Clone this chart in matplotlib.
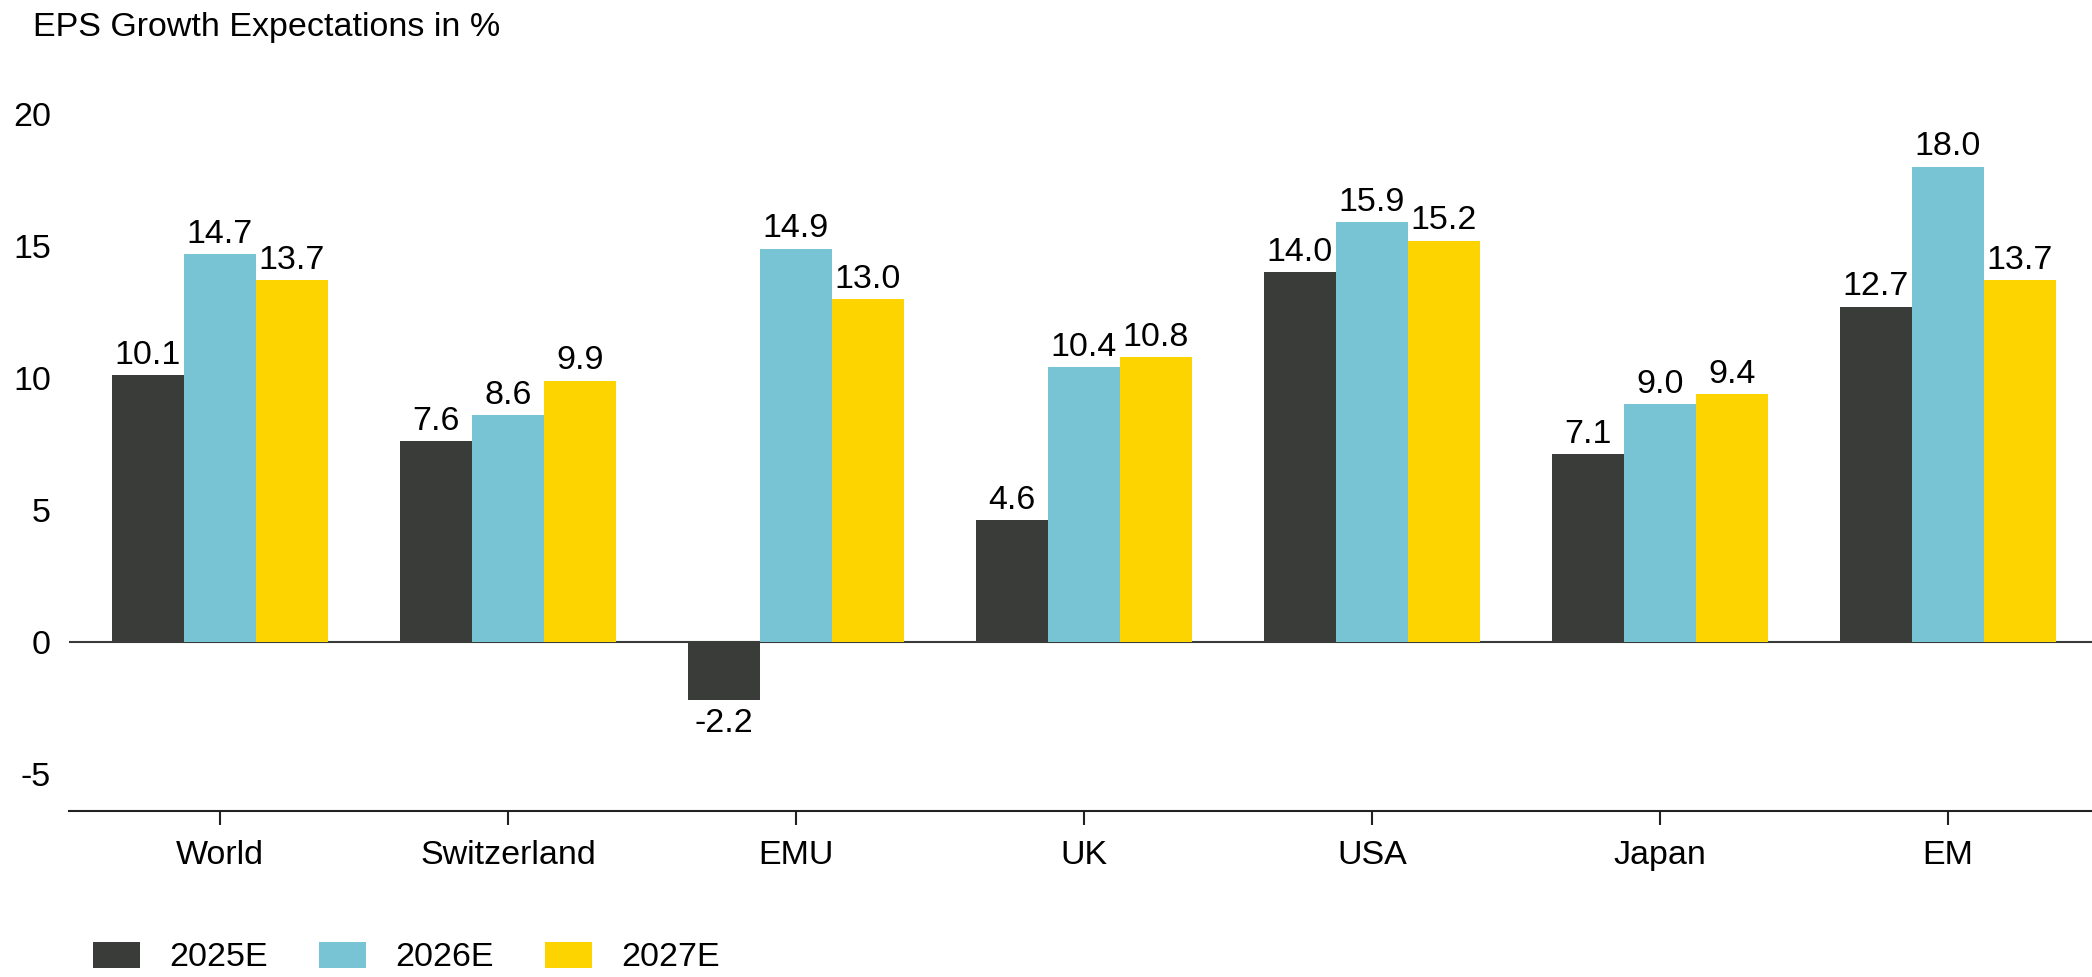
import matplotlib
matplotlib.use("Agg")
import matplotlib.pyplot as plt
import numpy as np
from matplotlib.patches import Patch

plt.rcParams['font.family'] = ['Liberation Sans', 'DejaVu Sans']

regions = ["World", "Switzerland", "EMU", "UK", "USA", "Japan", "EM"]
series_names = ["2025E", "2026E", "2027E"]
eps_2025 = [10.1, 7.6, -2.2, 4.6, 14.0, 7.1, 12.7]
eps_2026 = [14.7, 8.6, 14.9, 10.4, 15.9, 9.0, 18.0]
eps_2027 = [13.7, 9.9, 13.0, 10.8, 15.2, 9.4, 13.7]
colors = ["#3a3c39", "#79c4d4", "#fdd300"]
y_ticks = [-5, 0, 5, 10, 15, 20]

FS = 24.5

fig = plt.figure(figsize=(20.92, 9.77), dpi=100)
ax = fig.add_axes([0.033, 0.170, 0.967, 0.754])

x = np.arange(len(regions))
width = 0.25
for i, (vals, name, col) in enumerate(zip([eps_2025, eps_2026, eps_2027], series_names, colors)):
    pos = x + (i - 1) * width
    bars = ax.bar(pos, vals, width=width, color=col, label=name, zorder=2)
    for b, v in zip(bars, vals):
        if v >= 0:
            ax.annotate(f"{v:.1f}", (b.get_x() + b.get_width() / 2, v),
                        xytext=(0, 3), textcoords="offset points",
                        ha="center", va="bottom", fontsize=FS)
        else:
            ax.annotate(f"{v:.1f}", (b.get_x() + b.get_width() / 2, v),
                        xytext=(0, -6), textcoords="offset points",
                        ha="center", va="top", fontsize=FS)

ax.axhline(0, color="#3a3a3a", linewidth=1.5, zorder=1)

ax.set_xlim(-0.524, 6.5)
ax.set_ylim(-6.4, 21.5)
ax.set_yticks(y_ticks)
ax.set_yticklabels([str(t) for t in y_ticks])
ax.set_xticks(x)
ax.set_xticklabels(regions)

for s in ["top", "right", "left"]:
    ax.spines[s].set_visible(False)
ax.spines["bottom"].set_linewidth(1.5)
ax.spines["bottom"].set_color("#222222")

ax.tick_params(axis="y", length=0, pad=13, labelsize=FS)
ax.tick_params(axis="x", length=10, width=1.5, pad=11, labelsize=FS, color="#222222")

fig.text(0.016, 0.972, "EPS Growth Expectations in %", fontsize=FS, ha="left", va="center")

handles = [Patch(facecolor=c, edgecolor="none") for c in colors]
fig.legend(handles, series_names, loc="center left", bbox_to_anchor=(0.0446, 0.020),
           ncol=3, frameon=False, fontsize=FS, handlelength=1.38, handleheight=0.8,
           handletextpad=0.86, columnspacing=1.5, borderpad=0, borderaxespad=0)

fig.savefig("out.png", dpi=100, facecolor="white")
